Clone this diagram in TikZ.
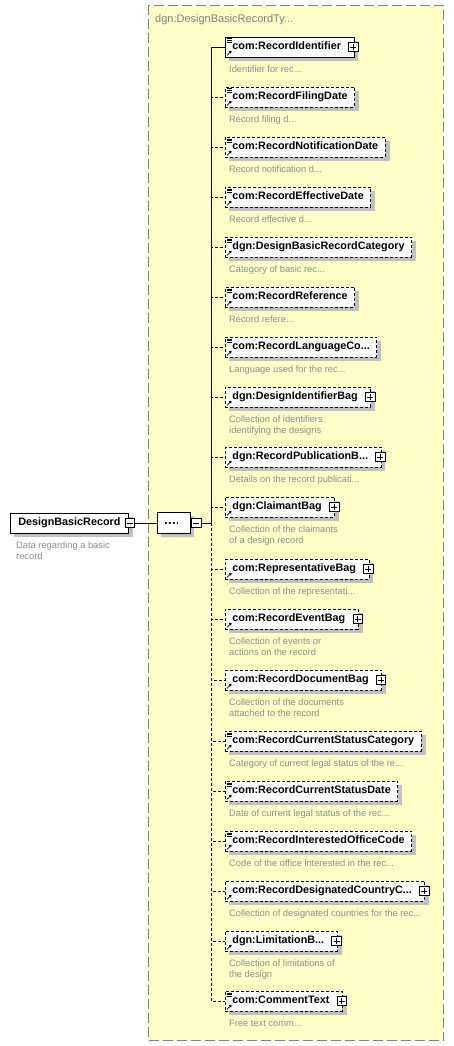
\documentclass[tikz,border=0pt]{standalone}
\usepackage{fontspec}
\setmainfont{Liberation Sans}
\usepackage{xcolor}
\usetikzlibrary{positioning, arrows.meta, shapes.misc, calc}

\definecolor{typefill}{RGB}{255,255,200}
\definecolor{typeline}{RGB}{128,128,128}
\definecolor{desctext}{RGB}{140,140,140}
\definecolor{shadowgray}{RGB}{192,192,192}

\pgfdeclarelayer{typelayer}
\pgfdeclarelayer{shadowlayer}
\pgfsetlayers{typelayer,shadowlayer,main}

\tikzset{
  elembox/.style={rectangle, draw, fill=white, line width=0.8pt, anchor=west,
    minimum height=20pt, inner xsep=7pt, inner ysep=0pt,
    text height=8pt, text depth=2.4pt,
    font=\fontsize{10.8}{12}\selectfont\bfseries},
  optbox/.style={elembox, dash pattern=on 3pt off 2pt},
  rootbox/.style={elembox, inner xsep=8pt},
  refonly/.style={path picture={
      \draw[solid, line width=0.7pt, -{Triangle[length=2.4pt, width=3pt]}]
        ($(path picture bounding box.south west)+(1.6pt,1.6pt)$) -- ++(4.6pt,4.6pt);}},
  simpleicon/.style={path picture={
      \draw[solid, line width=0.7pt, -{Triangle[length=2.4pt, width=3pt]}]
        ($(path picture bounding box.south west)+(1.6pt,1.6pt)$) -- ++(4.6pt,4.6pt);
      \foreach \k in {1.8pt,3.6pt,5.4pt}
        \draw[solid, line width=0.6pt]
          ($(path picture bounding box.north west)+(1.5pt,-\k)$) -- ++(5.5pt,0pt);}},
  expandable/.style={execute at end node={\hspace*{6pt}}},
  plusbtn/.style={rectangle, draw, fill=white, line width=0.7pt, minimum size=9.5pt, inner sep=0pt,
    path picture={\draw[solid, line width=0.7pt] (path picture bounding box.center)
      +(-3pt,0pt) -- +(3pt,0pt) +(0pt,-3pt) -- +(0pt,3pt);}},
  minusbtn/.style={rectangle, draw, fill=white, line width=0.7pt, minimum size=9.5pt, inner sep=0pt,
    path picture={\draw[solid, line width=0.7pt] (path picture bounding box.center)
      +(-3pt,0pt) -- +(3pt,0pt);}},
  seqshape/.style={chamfered rectangle, chamfered rectangle xsep=4.5pt, chamfered rectangle ysep=4.5pt,
    minimum width=33pt, minimum height=21pt, inner sep=0pt},
  seqbox/.style={seqshape, draw, fill=white, line width=0.8pt,
    path picture={
      \draw[line width=1.3pt] (path picture bounding box.center) +(-8.5pt,0pt) -- +(4.5pt,0pt);
      \foreach \d in {-6pt,-2pt,2pt}
        \fill ($(path picture bounding box.center)+(\d,0pt)$) circle[radius=1.5pt];}},
  seqshade/.style={seqshape, fill=shadowgray},
  descr/.style={font=\fontsize{9.3}{11}\selectfont, text=desctext, align=left, inner sep=0pt},
  typebox/.style={rectangle, draw=typeline, fill=typefill, line width=1.1pt,
    dash pattern=on 10pt off 4pt, inner sep=0pt, anchor=north west},
  typename/.style={font=\fontsize{11}{13}\selectfont, text=typeline, inner sep=0pt},
  mandline/.style={line width=0.8pt},
  optline/.style={line width=0.8pt, dash pattern=on 3pt off 2pt},
}

\begin{document}
\begin{tikzpicture}[x=1pt, y=-1pt]
    \useasboundingbox (0,0) rectangle (454,1046);

    % complex type
    \begin{pgfonlayer}{typelayer}
    \node[typebox, minimum width=295pt, minimum height=1035pt] (dbrt) at (148,5) {};
    \end{pgfonlayer}
    \node[typename, below right=9pt and 7pt of dbrt.north west] (dbrt-t) {dgn:DesignBasicRecordTy...};

    % root element and sequence
    \node[rootbox] (dbr) at (10,523) {DesignBasicRecord};
    \node[minusbtn] (dbr-m) at ([xshift=1pt]dbr.east) {};
    \node[descr, below right=8pt and 6pt of dbr.south west] (dbr-d) {Data regarding a basic\\record};
    \node[seqbox, right=22pt of dbr-m] (seq) {};
    \node[minusbtn, right=0.5pt of seq] (seq-m) {};
    \coordinate[right=10pt of seq-m] (trunk);

    % children
    \node[elembox, simpleicon, expandable] (rid) at (225,47) {com:RecordIdentifier};
    \node[plusbtn] (rid-p) at ([xshift=-1pt]rid.east) {};
    \node[descr, below right=8pt and 4pt of rid.south west] (rid-d) {Identifier for rec...};

    \node[optbox, simpleicon] (rfd) at (225,97) {com:RecordFilingDate};
    \node[descr, below right=8pt and 4pt of rfd.south west] (rfd-d) {Record filing d...};

    \node[optbox, simpleicon] (rnd) at (225,147) {com:RecordNotificationDate};
    \node[descr, below right=8pt and 4pt of rnd.south west] (rnd-d) {Record notification d...};

    \node[optbox, simpleicon] (red) at (225,197) {com:RecordEffectiveDate};
    \node[descr, below right=8pt and 4pt of red.south west] (red-d) {Record effective d...};

    \node[optbox, simpleicon] (rcat) at (225,247) {dgn:DesignBasicRecordCategory};
    \node[descr, below right=8pt and 4pt of rcat.south west] (rcat-d) {Category of basic rec...};

    \node[optbox, simpleicon] (rref) at (225,297) {com:RecordReference};
    \node[descr, below right=8pt and 4pt of rref.south west] (rref-d) {Record refere...};

    \node[optbox, simpleicon] (rlang) at (225,347) {com:RecordLanguageCo...};
    \node[descr, below right=8pt and 4pt of rlang.south west] (rlang-d) {Language used for the rec...};

    \node[optbox, refonly, expandable] (dib) at (225,397) {dgn:DesignIdentifierBag};
    \node[plusbtn] (dib-p) at ([xshift=-1pt]dib.east) {};
    \node[descr, below right=8pt and 4pt of dib.south west] (dib-d) {Collection of identifiers\\identifying the designs};

    \node[optbox, refonly, expandable] (rpub) at (225,457) {dgn:RecordPublicationB...};
    \node[plusbtn] (rpub-p) at ([xshift=-1pt]rpub.east) {};
    \node[descr, below right=8pt and 4pt of rpub.south west] (rpub-d) {Details on the record publicati...};

    \node[optbox, refonly, expandable] (clm) at (225,507) {dgn:ClaimantBag};
    \node[plusbtn] (clm-p) at ([xshift=-1pt]clm.east) {};
    \node[descr, below right=8pt and 4pt of clm.south west] (clm-d) {Collection of the claimants\\of a design record};

    \node[optbox, refonly, expandable] (rep) at (225,569) {com:RepresentativeBag};
    \node[plusbtn] (rep-p) at ([xshift=-1pt]rep.east) {};
    \node[descr, below right=8pt and 4pt of rep.south west] (rep-d) {Collection of the representati...};

    \node[optbox, refonly, expandable] (rev) at (225,619) {com:RecordEventBag};
    \node[plusbtn] (rev-p) at ([xshift=-1pt]rev.east) {};
    \node[descr, below right=8pt and 4pt of rev.south west] (rev-d) {Collection of events or\\actions on the record};

    \node[optbox, refonly, expandable] (rdoc) at (225,680) {com:RecordDocumentBag};
    \node[plusbtn] (rdoc-p) at ([xshift=-1pt]rdoc.east) {};
    \node[descr, below right=8pt and 4pt of rdoc.south west] (rdoc-d) {Collection of the documents\\attached to the record};

    \node[optbox, simpleicon] (rcsc) at (225,741) {com:RecordCurrentStatusCategory};
    \node[descr, below right=8pt and 4pt of rcsc.south west] (rcsc-d) {Category of current legal status of the re...};

    \node[optbox, simpleicon] (rcsd) at (225,791) {com:RecordCurrentStatusDate};
    \node[descr, below right=8pt and 4pt of rcsd.south west] (rcsd-d) {Date of current legal status of the rec...};

    \node[optbox, simpleicon] (rioc) at (225,841) {com:RecordInterestedOfficeCode};
    \node[descr, below right=8pt and 4pt of rioc.south west] (rioc-d) {Code of the office interested in the rec...};

    \node[optbox, refonly, expandable] (rdcc) at (225,891) {com:RecordDesignatedCountryC...};
    \node[plusbtn] (rdcc-p) at ([xshift=-1pt]rdcc.east) {};
    \node[descr, below right=8pt and 4pt of rdcc.south west] (rdcc-d) {Collection of designated countries for the rec...};

    \node[optbox, refonly, expandable] (lim) at (225,941) {dgn:LimitationB...};
    \node[plusbtn] (lim-p) at ([xshift=-1pt]lim.east) {};
    \node[descr, below right=8pt and 4pt of lim.south west] (lim-d) {Collection of limitations of\\the design};

    \node[optbox, simpleicon, expandable] (cmt) at (225,1001) {com:CommentText};
    \node[plusbtn] (cmt-p) at ([xshift=-1pt]cmt.east) {};
    \node[descr, below right=8pt and 4pt of cmt.south west] (cmt-d) {Free text comm...};

    % shadows
    \begin{pgfonlayer}{shadowlayer}
    \foreach \n in {dbr,rid,rfd,rnd,red,rcat,rref,rlang,dib,rpub,clm,rep,rev,rdoc,rcsc,rcsd,rioc,rdcc,lim,cmt}
        \fill[shadowgray] ($(\n.south west)+(4pt,-4pt)$) rectangle ($(\n.north east)+(4pt,-4pt)$);
    \node[seqshade] (seq-s) at ([shift={(3.5pt,-3.5pt)}]seq.center) {};
    \end{pgfonlayer}

    % connectors
    \draw[mandline] (dbr-m) -- (seq);
    \draw[mandline] (seq-m) -- (trunk);
    \draw[mandline] (trunk) |- (rid);
    \draw[optline] (trunk) |- (rfd);
    \draw[optline] (trunk) |- (rnd);
    \draw[optline] (trunk) |- (red);
    \draw[optline] (trunk) |- (rcat);
    \draw[optline] (trunk) |- (rref);
    \draw[optline] (trunk) |- (rlang);
    \draw[optline] (trunk) |- (dib);
    \draw[optline] (trunk) |- (rpub);
    \draw[optline] (trunk) |- (clm);
    \draw[optline] (trunk) |- (rep);
    \draw[optline] (trunk) |- (rev);
    \draw[optline] (trunk) |- (rdoc);
    \draw[optline] (trunk) |- (rcsc);
    \draw[optline] (trunk) |- (rcsd);
    \draw[optline] (trunk) |- (rioc);
    \draw[optline] (trunk) |- (rdcc);
    \draw[optline] (trunk) |- (lim);
    \draw[optline] (trunk) |- (cmt);
\end{tikzpicture}
\end{document}
